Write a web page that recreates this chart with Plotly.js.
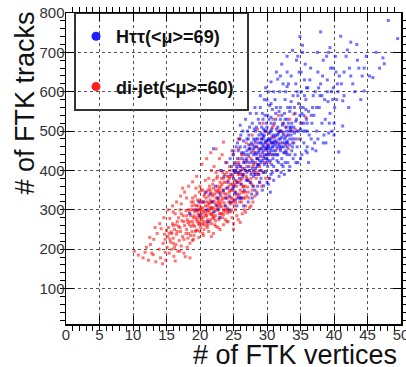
<!DOCTYPE html>
<html><head><meta charset="utf-8">
<script src="https://cdn.plot.ly/plotly-3.0.1.min.js"></script>
<style>html,body{margin:0;padding:0;background:#fff}#chart{width:406px;height:367px}</style>
</head><body><div id="chart"></div>
<script>
const seriesNames = ["H\u03c4\u03c4(<\u03bc>=69)", "di-jet(<\u03bc>=60)"];
const xTickVals = [0,5,10,15,20,25,30,35,40,45,50];
const yTickVals = [100,200,300,400,500,600,700,800];

// di-jet sample: [vertices, tracks]
const dijetPoints = [
[10.2,195],[10.8,185],[11.5,178],[12.0,205],[12.3,172],[12.8,190],[13.1,225],[13.4,168],[13.6,240],[13.9,200],[14.1,178],[14.4,163],[14.5,215],[14.7,238],[14.8,192],[13.0,186],[11.8,192],[14.2,252],[12.6,212],[14.9,172],
[15.1,205],[15.2,232],[15.3,255],[15.4,190],[15.5,278],[15.6,218],[15.7,244],[15.8,200],[15.9,265],[16.0,228],[16.1,182],[16.2,250],[16.3,290],[16.4,212],[16.5,238],[16.6,270],[16.7,195],[16.8,258],[16.9,222],[17.0,300],[17.1,245],[17.2,208],[17.3,272],[17.4,232],[17.5,285],[17.6,190],[17.7,260],[17.8,181],[17.9,240],[15.0,248],[15.5,225],[16.2,205],[16.8,280],[17.2,315],[17.6,225],[15.8,240],[16.4,262],[17.0,255],[17.9,298],[16.0,215],
[18.0,250],[18.1,275],[18.2,228],[18.3,300],[18.4,262],[18.5,215],[18.6,285],[18.7,320],[18.8,245],[18.9,270],[19.0,300],[19.1,235],[19.2,258],[19.3,335],[19.4,280],[19.5,310],[19.6,248],[19.7,290],[19.8,265],[19.9,345],[20.0,300],[20.1,255],[20.2,280],[20.3,320],[20.4,240],[20.5,295],[20.6,270],[20.7,340],[20.8,310],[20.9,260],[18.2,268],[18.4,292],[18.6,235],[18.8,310],[19.0,262],[19.2,295],[19.4,248],[19.6,325],[19.8,285],[20.0,270],[20.2,350],[20.4,305],[20.6,250],[20.8,290],[18.1,205],[18.9,222],[19.5,275],[20.1,318],[20.5,282],[19.3,300],[18.7,258],[20.0,245],[19.9,262],[20.3,290],[20.7,298],[18.3,240],[19.1,285],[19.7,310],[20.9,330],[18.5,270],[20.0,360],[19.4,355],[20.8,375],[18.9,330],[20.4,265],[19.8,300],[20.6,320],[20.2,300],[19.0,280],[20.0,288],
[21.0,285],[21.1,310],[21.2,262],[21.3,335],[21.4,298],[21.5,352],[21.6,275],[21.7,320],[21.8,290],[21.9,365],[22.0,305],[22.1,278],[22.2,340],[22.3,315],[22.4,258],[22.5,380],[22.6,300],[22.7,350],[22.8,325],[22.9,290],[23.0,400],[23.1,335],[23.2,308],[23.3,365],[23.4,280],[23.5,345],[23.6,318],[23.7,390],[23.8,300],[23.9,355],[21.0,320],[21.2,350],[21.4,270],[21.6,305],[21.8,340],[22.0,375],[22.2,295],[22.4,330],[22.6,360],[22.8,275],[23.0,310],[23.2,380],[23.4,330],[23.6,295],[23.8,420],[21.1,255],[21.5,290],[21.9,320],[22.3,350],[22.7,305],[23.1,360],[23.5,300],[23.9,330],[21.3,380],[22.1,410],[22.9,430],[23.3,440],[21.7,400],[22.5,312],[23.7,340],[21.4,315],[22.0,285],[22.6,330],[23.2,290],[21.8,305],[22.4,395],[23.0,345],[21.2,300],[22.8,345],[23.6,370],[21.6,345],[22.2,262],[23.4,395],[21.0,268],[22.9,315],[23.8,275],[21.5,325],[22.3,300],[23.1,318],[21.9,280],
[24.0,340],[24.1,305],[24.2,375],[24.3,320],[24.4,410],[24.5,350],[24.6,295],[24.7,385],[24.8,330],[24.9,440],[25.0,360],[25.1,310],[25.2,395],[25.3,345],[25.4,420],[25.5,285],[25.6,370],[25.7,335],[25.8,455],[25.9,390],[26.0,350],[26.1,410],[26.2,320],[26.3,380],[26.4,440],[26.5,360],[26.6,300],[26.7,400],[26.8,345],[26.9,470],[24.0,300],[24.3,360],[24.6,330],[24.9,390],[25.2,340],[25.5,405],[25.8,370],[26.1,330],[26.4,390],[26.7,360],[24.2,270],[24.8,365],[25.4,375],[26.0,395],[26.6,425],[24.5,400],[25.1,450],[25.7,480],[26.3,345],[24.7,318],[25.3,300],[25.9,340],[26.5,330],[24.4,345],[25.0,265],[25.6,395],[26.2,365],[26.8,310],[24.1,385],[25.5,330],[26.9,385],[24.9,350],[26.0,480],[25.2,365],[24.6,365],[25.8,420],[26.4,358],[24.3,295],[25.0,325],[26.2,440],
[27.0,380],[27.1,420],[27.2,345],[27.3,400],[27.4,455],[27.5,370],[27.6,430],[27.7,395],[27.8,490],[27.9,410],[28.0,360],[28.1,445],[28.2,400],[28.3,470],[28.4,380],[28.5,430],[28.6,505],[28.7,415],[28.8,455],[28.9,370],[29.0,440],[29.1,480],[29.2,400],[29.3,460],[29.4,520],[29.6,420],[29.8,470],[27.3,330],[27.8,350],[28.2,335],[28.8,390],[27.5,465],[28.0,415],[29.5,395],[27.0,335],[28.4,460],[29.9,440],[27.6,310],[27.2,375],[28.6,395],
[30.0,450],[30.2,495],[30.4,420],[30.6,470],[30.8,510],[31.0,440],[31.2,485],[31.5,455],[31.8,500],[32.0,470],[32.3,520],[32.6,445],[33.0,490],[33.4,530],[33.8,470],[34.2,505],[35.0,520],[31.4,400],[30.3,380],[32.8,465],[30.9,530],[29.7,500],[31.7,540],[33.2,455],[34.6,480],[34.0,543],[35.8,535],
[14.0,265],[14.6,280],[15.2,300],[15.9,310],[16.5,320],[17.1,335],[17.7,345],[18.3,360],[18.9,371],[19.5,385],[20.3,416],[21.0,430],[21.6,445],[22.4,455],[23.5,472],[12.5,230],[13.3,255],[16.0,295],[17.4,355],[18.0,330],
[19.0,225],[19.8,230],[20.5,235],[21.3,245],[22.0,240],[22.7,255],[23.5,262],[24.0,270],[24.8,280],[25.0,251],[25.7,275],[26.3,290],[26.8,294],[27.4,305],[27.9,320],[28.5,345],[29.2,360],[29.8,380],[26.0,268],[23.0,250],[21.7,232],[18.5,178],[17.0,195],[16.3,170],
[19.2,312],[19.6,298],[20.1,305],[20.3,275],[20.6,335],[20.9,285],[21.1,295],[21.3,318],[21.5,305],[21.7,288],[21.9,335],[22.1,322],[22.3,285],[22.5,345],[22.7,320],[22.9,355],[23.1,290],[23.3,325],[23.5,380],[23.7,310],[23.9,370],[24.1,330],[24.3,385],[24.5,315],[24.7,350],[24.9,320],[25.1,375],[25.3,415],[25.5,360],[25.7,390],[25.9,430],[26.1,375],[26.3,405],[26.5,390],[26.7,330],[27.0,410],[27.3,435],[27.6,380],[27.9,450],[28.3,420],[20.0,325],[20.4,350],[21.0,345],[21.4,360],[22.0,355],[22.6,385],[23.0,370],[23.4,350],[24.0,395],[24.4,380],[19.0,320],[19.6,270],[18.6,300],[18.0,285],[17.6,270],[17.2,290],[16.6,245],[16.0,260],[15.4,240],[14.8,225],
[19.3,245],[19.9,280],[20.5,262],[21.1,275],[21.7,265],[22.3,272],[22.9,280],[23.5,288],[24.1,292],[24.7,300],[25.3,318],[25.9,320],[26.5,345],[27.1,358],[27.7,365],[28.3,390],[28.9,410],[29.5,430],[30.1,465],[30.7,485],[31.3,470],[32.1,500],[32.9,510],[33.6,500],[31.0,515],[30.5,440]
];

// H->tautau sample: [vertices, tracks]
const httPoints = [
[18.5,290],[19.5,300],[20.0,285],[20.5,320],[21.0,300],[21.5,340],[22.0,295],[22.3,360],[22.7,330],[23.0,280],[23.2,400],[23.5,350],[23.8,310],[24.0,420],[24.2,370],[24.4,335],[24.6,390],[24.8,450],[24.9,355],[21.2,270],[22.5,310],[23.6,385],[24.3,300],[20.8,345],[19.8,320],[23.0,340],[24.7,410],[22.0,455],[21.8,320],[24.1,355],
[25.0,380],[25.1,420],[25.2,345],[25.3,400],[25.4,460],[25.5,370],[25.6,430],[25.7,395],[25.8,330],[25.9,480],[26.0,410],[26.1,365],[26.2,445],[26.3,390],[26.4,500],[26.5,420],[26.6,350],[26.7,460],[26.8,400],[26.9,430],[27.0,480],[27.1,375],[27.2,440],[27.3,410],[27.4,510],[27.5,455],[27.6,390],[27.7,470],[27.8,425],[27.9,360],[25.0,440],[25.3,325],[25.6,470],[25.9,380],[26.2,330],[26.5,475],[26.8,440],[27.1,500],[27.4,400],[27.7,340],[25.2,395],[25.8,415],[26.4,385],[27.0,425],[27.6,445],[26.0,460],[26.6,405],[27.2,480],[27.8,520],[25.5,310],[26.3,430],[27.5,370],[26.9,375],[25.1,360],[27.9,465],[26.1,490],[25.7,450],[27.3,455],[26.7,420],[27.0,395],
[28.0,420],[28.1,460],[28.2,390],[28.3,500],[28.4,440],[28.5,410],[28.6,480],[28.7,530],[28.8,450],[28.9,370],[29.0,470],[29.1,420],[29.2,510],[29.3,445],[29.4,395],[29.5,485],[29.6,460],[29.7,540],[29.8,430],[29.9,500],[30.0,460],[30.1,410],[30.2,480],[30.3,530],[30.4,445],[30.5,500],[30.6,390],[30.7,470],[30.8,555],[30.9,430],[28.0,480],[28.2,350],[28.4,510],[28.6,430],[28.8,490],[29.0,400],[29.2,455],[29.4,530],[29.6,415],[29.8,475],[30.0,510],[30.2,440],[30.4,380],[30.6,520],[30.8,460],[28.1,395],[28.5,460],[28.9,425],[29.3,490],[29.7,470],[30.1,455],[30.5,425],[30.9,490],[28.3,445],[28.7,470],[29.1,380],[29.5,435],[29.9,455],[30.3,480],[30.7,415],[28.4,545],[29.0,560],[29.6,580],[30.2,600],[30.6,570],[28.6,360],[29.3,350],[30.0,370],[30.5,345],[29.8,395],[28.2,475],[28.8,415],[29.4,465],[30.0,430],[30.6,450],[28.9,520],[29.5,505],[30.1,540],[30.7,505],[28.3,405],[29.2,480],[29.9,420],[30.4,475],[30.8,395],[28.7,390],[29.6,440],[30.3,460],[28.0,455],[29.7,500],[30.9,460],
[31.0,470],[31.1,520],[31.2,440],[31.3,490],[31.4,560],[31.5,460],[31.6,510],[31.7,420],[31.8,480],[31.9,600],[32.0,450],[32.1,500],[32.2,540],[32.3,470],[32.4,410],[32.5,520],[32.6,480],[32.7,580],[32.8,450],[32.9,500],[33.0,530],[33.1,470],[33.2,620],[33.3,500],[33.4,440],[33.5,560],[33.6,490],[33.7,520],[33.8,460],[33.9,590],[31.0,410],[31.3,450],[31.6,470],[31.9,500],[32.2,430],[32.5,460],[32.8,510],[33.1,420],[33.4,480],[33.7,450],[31.2,580],[31.8,550],[32.4,620],[33.0,650],[33.6,640],[31.5,400],[32.1,395],[32.7,420],[33.3,400],[33.9,430],[31.1,475],[31.7,495],[32.3,515],[32.9,470],[33.5,505],[31.4,505],[32.0,530],[32.6,545],[33.2,520],[33.8,500],[31.9,460],[32.5,490],[33.1,560],[31.3,530],[32.8,600],[33.6,575],[31.6,440],[32.2,485],[33.4,510],[32.9,445],[31.6,632],[33.0,613],[30.0,579],
[34.0,510],[34.1,560],[34.2,480],[34.3,620],[34.4,530],[34.5,460],[34.6,590],[34.7,500],[34.8,650],[34.9,540],[35.0,480],[35.1,600],[35.2,520],[35.3,700],[35.4,560],[35.5,470],[35.6,630],[35.7,500],[35.8,580],[35.9,530],[36.0,460],[36.1,610],[36.2,550],[36.3,490],[36.5,660],[36.7,520],[36.9,590],[34.2,440],[34.6,420],[35.0,430],[35.4,500],[35.8,450],[36.2,420],[36.6,480],[34.4,680],[34.9,740],[35.3,718],[35.7,670],[36.4,630],[34.1,495],[34.7,570],[35.2,545],[35.6,590],[36.0,520],[36.8,560],[34.5,600],[35.1,650],[35.9,610],[34.3,525],[35.5,540],
[37.0,540],[37.2,600],[37.4,500],[37.6,650],[37.8,560],[38.0,620],[38.0,752],[38.2,520],[38.4,680],[38.6,580],[38.8,470],[39.0,630],[39.2,700],[39.4,712],[39.4,545],[39.6,600],[39.8,660],[40.0,520],[40.2,690],[40.4,580],[40.7,447],[40.8,640],[37.1,470],[37.5,700],[37.9,590],[38.3,640],[38.7,530],[39.1,575],[39.5,660],[39.9,610],[37.3,450],[38.5,490],[39.7,500],[40.5,620],[41.0,741],[40.1,560],[37.7,610],[38.9,690],[40.3,650],[39.3,520],
[41.3,577],[41.3,513],[41.5,650],[41.8,690],[42.0,706],[42.2,560],[42.5,726],[42.8,620],[43.1,600],[43.4,720],[43.7,660],[44.0,580],[44.5,602],[44.8,690],[45.3,640],[45.8,636],[46.3,700],[46.8,660],[47.3,686],[47.5,671],[48.1,781],[49.5,735],[42.3,660],[44.2,640],[41.1,620],
[26.5,310],[27.2,320],[27.8,330],[28.5,340],[29.5,361],[30.2,365],[31.0,375],[31.8,385],[32.6,390],[33.4,410],[34.3,420],[35.2,440],[36.0,445],[36.8,455],[37.6,480],[38.4,470],[39.2,495],[40.0,490],[25.5,340],[24.5,320],[23.8,330],[22.8,300],[26.0,330],[28.0,385],
[26.0,515],[26.8,530],[27.5,545],[28.2,560],[29.0,590],[29.8,610],[30.6,625],[31.4,650],[32.2,670],[33.0,690],[33.8,705],[34.6,690],[31.0,600],[32.0,640],[27.3,490],[28.1,505],[29.3,545],[30.4,565],
[29.0,455],[29.2,470],[29.4,480],[29.6,490],[29.8,455],[30.0,475],[30.2,465],[30.4,495],[30.6,480],[30.8,470],[31.0,485],[31.2,465],[31.4,475],[31.6,490],[31.8,465],[32.0,480],[32.2,460],[32.4,495],[32.6,470],[32.8,485],[33.0,475],[33.2,490],[33.4,465],[33.6,510],[33.8,480],[28.5,430],[28.7,445],[29.0,435],[29.5,450],[30.0,440],[30.5,455],[31.0,450],[31.5,440],[32.0,455],[32.5,445],[33.0,460],[34.0,470],[34.5,500],[35.0,505],[35.5,520],[36.0,500],
[28.4,480],[29.1,495],[29.9,520],[30.6,535],[31.3,545],[32.0,560],[32.7,530],[33.4,550],[34.2,545],[35.0,560],[35.8,555],[36.6,540],[37.4,560],[38.2,590],[39.0,600],[39.8,580],[40.6,600],[41.5,590],[42.5,640],[43.5,680],[44.5,660],[27.0,450],[27.5,420],[28.0,440],[26.5,445],[26.0,400],[25.5,410],[25.0,400],[24.5,430],[27.3,465],[27.8,405],[28.6,415],[29.3,425],[30.1,425],[30.8,440],[31.5,425],[32.2,415],[33.0,440]
];

const FONT = "Liberation Sans, Arial, Helvetica, sans-serif";
const W = 406, H = 367;
const M = {l: 66, r: 5, t: 13, b: 43};
const pw = W - M.l - M.r, ph = H - M.t - M.b;
const px = v => (v - M.l) / pw;          // pixel -> paper x
const py = v => (H - M.b - v) / ph;      // pixel -> paper y

const traces = [
  {type: "scatter", mode: "markers", name: seriesNames[1], showlegend: false,
   x: dijetPoints.map(p => p[0]), y: dijetPoints.map(p => p[1]),
   marker: {symbol: "square", size: 3, color: "rgba(255,0,0,0.55)", line: {width: 0}}},
  {type: "scatter", mode: "markers", name: seriesNames[0], showlegend: false,
   x: httPoints.map(p => p[0]), y: httPoints.map(p => p[1]),
   marker: {symbol: "square", size: 3, color: "rgba(0,0,255,0.55)", line: {width: 0}}},
  {type: "scatter", mode: "markers", name: seriesNames[0], legendgroup: "a",
   x: [null], y: [null], marker: {symbol: "circle", size: 9, color: "#1f1fff"}},
  {type: "scatter", mode: "markers", name: seriesNames[1], legendgroup: "b",
   x: [null], y: [null], marker: {symbol: "circle", size: 9, color: "#ff1f1f"}}
];

const axisCommon = {
  showline: true, linecolor: "#000", linewidth: 1.5, mirror: "allticks",
  ticks: "inside", ticklen: 8, tickwidth: 1, tickcolor: "#000",
  showgrid: true, gridcolor: "#555", gridwidth: 1, griddash: "dot",
  zeroline: false, tickfont: {family: FONT, size: 15, color: "#333"},
  ticklabeloverflow: "allow", fixedrange: true
};

const layout = {
  width: W, height: H, margin: M,
  paper_bgcolor: "#fff", plot_bgcolor: "#fff",
  showlegend: true,
  xaxis: Object.assign({}, axisCommon, {range: [0, 50], tickvals: xTickVals, ticklabelstandoff: -4,
    minor: {dtick: 1, ticklen: 5, tickcolor: "#000", showgrid: false}}),
  yaxis: Object.assign({}, axisCommon, {range: [10, 800], tickvals: yTickVals, ticklabelstandoff: -3,
    minor: {dtick: 20, ticklen: 5, tickcolor: "#000", showgrid: false}}),
  legend: {x: px(76), y: py(18), xanchor: "left", yanchor: "top",
    bgcolor: "rgba(0,0,0,0)", borderwidth: 0, traceorder: "grouped", tracegroupgap: 24,
    font: {family: FONT, size: 18, color: "#111", weight: "bold"}},
  shapes: [
    {type: "rect", xref: "paper", yref: "paper", layer: "below",
     x0: px(75), x1: px(248), y0: py(110), y1: py(13),
     line: {color: "#333", width: 2}, fillcolor: "#fff"}
  ],
  annotations: [
    {xref: "paper", yref: "paper", x: px(399), y: py(355), xanchor: "right", yanchor: "middle",
     text: "# of FTK vertices", showarrow: false, font: {family: FONT, size: 27, color: "#111"}},
    {xref: "paper", yref: "paper", x: px(24), y: py(10), xanchor: "center", yanchor: "top",
     text: "# of FTK tracks", textangle: -90, showarrow: false, font: {family: FONT, size: 27, color: "#111"}}
  ]
};

Plotly.newPlot("chart", traces, layout, {staticPlot: true, displayModeBar: false});
</script>
</body></html>
